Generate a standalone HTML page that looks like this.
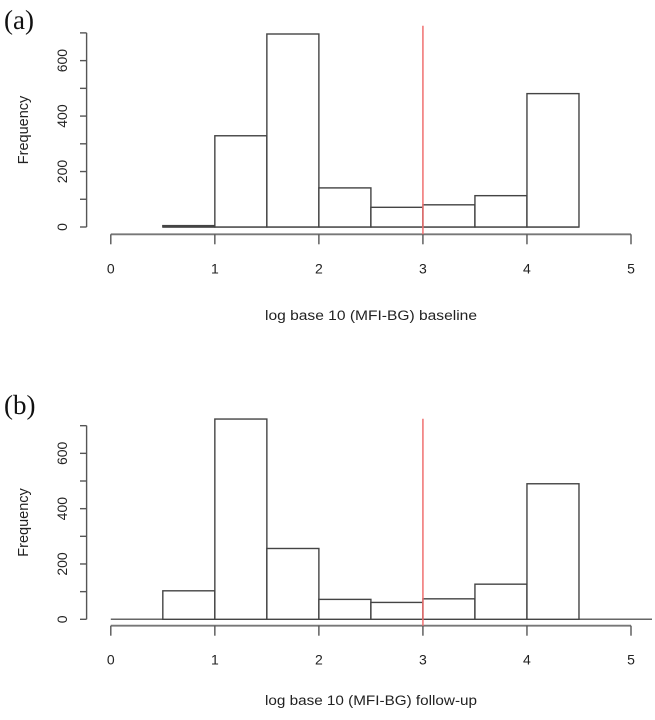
<!DOCTYPE html>
<html><head><meta charset="utf-8"><style>
html,body{margin:0;padding:0;background:#fff}
svg{display:block}
text{font-family:"Liberation Sans",sans-serif;fill:#222}
</style></head><body>
<svg id="chart" width="655" height="720" viewBox="0 0 655 720" xmlns="http://www.w3.org/2000/svg"></svg>
<script>
const binEdgesStart = [0.5,1,1.5,2,2.5,3,3.5,4];
const binWidth = 0.5;
const baselineCounts = [5,329,696,141,71,80,113,481];
const followupCounts = [103,724,256,72,61,74,127,490];
const yTicks = [0,200,400,600];
const yMinorTicks = [0,100,200,300,400,500,600,700];
const xTicks = [0,1,2,3,4,5];
const cutoff = 3;

const NS='http://www.w3.org/2000/svg';
const svg=document.getElementById('chart');
function mk(tag,attrs,parent){const e=document.createElementNS(NS,tag);for(const k in attrs)e.setAttribute(k,attrs[k]);(parent||svg).appendChild(e);return e;}
const xScale=v=>110.8+v*104.04;

function panel(cfg){
  const g=mk('g',{});
  
  
  const y0=cfg.y0, pxPer=cfg.pxPer;
  const yScale=v=>y0-v*pxPer;
  const lab=mk('text',{x:4,y:cfg.labelY,'font-size':27},g);
  
  
  lab.textContent=cfg.label;lab.style.fontFamily='"Liberation Serif",serif';lab.style.fill='#111';
  const bl=mk('line',{x1:xScale(cfg.baseFrom),x2:cfg.baseTo,y1:y0,y2:y0,stroke:'#666','stroke-width':1.5},g);
  
  
  cfg.counts.forEach((c,i)=>{
    const x1=xScale(binEdgesStart[i]),x2=xScale(binEdgesStart[i]+binWidth);
    const r=mk('rect',{x:x1,y:yScale(c),width:x2-x1,height:y0-yScale(c),fill:'#fff',stroke:'#444','stroke-width':1.4},g);
    
    
  });
  const ya=mk('line',{x1:86.6,x2:86.6,y1:yScale(700),y2:y0,stroke:'#555','stroke-width':1.4},g);
  
  
  yMinorTicks.forEach(t=>{
    const l=mk('line',{x1:80,x2:86.6,y1:yScale(t),y2:yScale(t),stroke:'#555','stroke-width':1.4},g);
    
    
  });
  yTicks.forEach(t=>{
    const tx=mk('text',{x:0,y:0,'font-size':14,'text-anchor':'middle',transform:`translate(67,${yScale(t)}) rotate(-90)`},g);
    
    
    tx.textContent=t;
  });
  const yt=mk('text',{x:0,y:0,'font-size':14.5,'text-anchor':'middle',transform:`translate(28,${yScale(350)}) rotate(-90)`},g);
  
  
  yt.textContent='Frequency';
  const xa=mk('line',{x1:xScale(0),x2:xScale(5),y1:cfg.xAxisY,y2:cfg.xAxisY,stroke:'#777','stroke-width':1.8},g);
  
  
  xTicks.forEach(t=>{
    const l=mk('line',{x1:xScale(t),x2:xScale(t),y1:cfg.xAxisY,y2:cfg.xAxisY+10,stroke:'#555','stroke-width':1.4},g);
    
    
    const tx=mk('text',{x:xScale(t),y:cfg.xAxisY+39,'font-size':14,'text-anchor':'middle'},g);
    
    
    tx.textContent=t;
  });
  const xt=mk('text',{x:371,y:cfg.titleY,'font-size':13.5,'text-anchor':'middle',textLength:212,lengthAdjust:'spacingAndGlyphs'},g);
  
  
  xt.textContent=cfg.title;
  const rl=mk('line',{x1:xScale(cutoff),x2:xScale(cutoff),y1:cfg.redTop,y2:cfg.xAxisY,stroke:'#f07070','stroke-width':1.5},g);
  
  
}
panel({name:'panel-a-baseline',label:'(a)',labelY:29,y0:227,pxPer:0.2773,counts:baselineCounts,baseFrom:0.5,baseTo:xScale(4.5),xAxisY:234.3,titleY:320,title:'log base 10 (MFI-BG) baseline',redTop:25.7});
panel({name:'panel-b-followup',label:'(b)',labelY:414,y0:619.3,pxPer:0.2766,counts:followupCounts,baseFrom:0,baseTo:652,xAxisY:625.7,titleY:705,title:'log base 10 (MFI-BG) follow-up',redTop:418.7});
</script>
</body></html>
